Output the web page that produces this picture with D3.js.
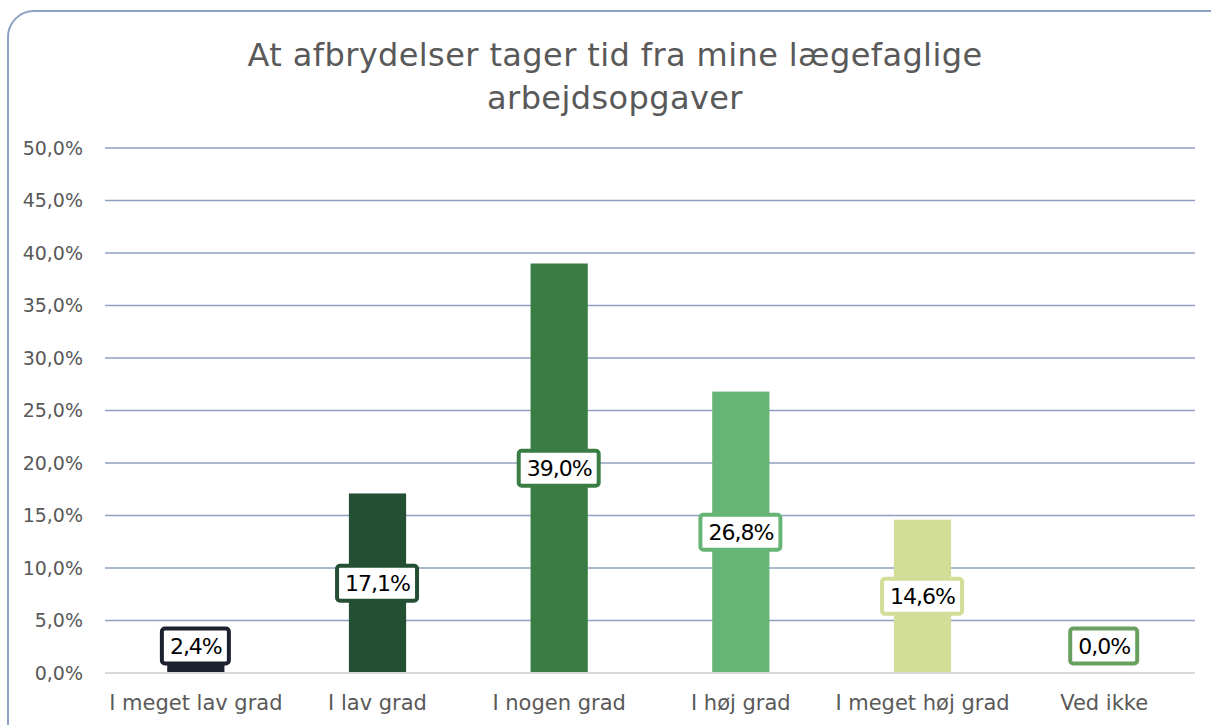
<!DOCTYPE html>
<html>
<head>
<meta charset="utf-8">
<script src="https://cdn.jsdelivr.net/npm/d3@7"></script>
<style>
  body { margin: 0; background: #fff; }
  svg text { font-family: "DejaVu Sans", sans-serif; }
</style>
</head>
<body>
<div id="chart"></div>
<script>
const titleLines = ['At afbrydelser tager tid fra mine lægefaglige', 'arbejdsopgaver'];
const categories = ['I meget lav grad', 'I lav grad', 'I nogen grad', 'I høj grad', 'I meget høj grad', 'Ved ikke'];
const values = [2.4, 17.1, 39.0, 26.8, 14.6, 0.0];
const colors = ['#1c2130', '#254f33', '#3a7d44', '#66b476', '#d2dd97', '#6aa05f'];
const yTicks = [0, 5, 10, 15, 20, 25, 30, 35, 40, 45, 50];

const width = 1211, height = 725;
const plot = { left: 105, right: 1195, top: 148, bottom: 673 };

const svg = d3.select('#chart')
    .append('svg')
    .attr('width', width)
    .attr('height', height);

// chart frame (runs off the right/bottom edge like the screenshot)
svg.append('rect')
    .attr('x', 8).attr('y', 11)
    .attr('width', 1240).attr('height', 760)
    .attr('rx', 26)
    .attr('fill', 'none')
    .attr('stroke', '#8ea0c4')
    .attr('stroke-width', 2);

// Title
svg.append('g')
    .selectAll('text')
    .data(titleLines)
    .enter()
    .append('text')
    .attr('x', 615)
    .attr('y', (d, i) => 66 + i * 43)
    .attr('text-anchor', 'middle')
    .attr('font-size', 32)
    .attr('letter-spacing', 0.4)
    .attr('fill', '#595959')
    .text(d => d);

const x = d3.scaleBand(categories, [plot.left, plot.right]).paddingInner(0.685).paddingOuter(0.3425);
const y = d3.scaleLinear([0, 50], [plot.bottom, plot.top]);

// gridlines
svg.append('g')
    .selectAll('line')
    .data(yTicks.filter(d => d > 0))
    .enter()
    .append('line')
    .attr('x1', plot.left).attr('x2', plot.right)
    .attr('y1', d => y(d)).attr('y2', d => y(d))
    .attr('stroke', '#8fa0c0')
    .attr('stroke-width', 1.5);

// y axis labels
const yAxis = svg.append('g')
    .attr('transform', `translate(${plot.left},0)`)
    .call(d3.axisLeft(y).tickValues(yTicks).tickSize(0).tickPadding(22)
        .tickFormat(d => d.toFixed(1).replace('.', ',') + '%'));
yAxis.select('.domain').remove();
yAxis.selectAll('text')
    .attr('font-size', 19)
    .attr('fill', '#595959')
    .attr('font-family', '"DejaVu Sans", sans-serif');

// bars
svg.append('g')
    .selectAll('rect')
    .data(values)
    .enter()
    .append('rect')
    .attr('x', (d, i) => x(categories[i]))
    .attr('width', x.bandwidth())
    .attr('y', d => y(d))
    .attr('height', d => y(0) - y(d))
    .attr('fill', (d, i) => colors[i]);

// baseline
svg.append('line')
    .attr('x1', plot.left).attr('x2', plot.right)
    .attr('y1', y(0)).attr('y2', y(0))
    .attr('stroke', '#d9d9d9')
    .attr('stroke-width', 2);

// x axis labels
svg.append('g')
    .selectAll('text')
    .data(categories)
    .enter()
    .append('text')
    .attr('x', d => x(d) + x.bandwidth() / 2)
    .attr('y', 710)
    .attr('text-anchor', 'middle')
    .attr('font-size', 21)
    .attr('fill', '#595959')
    .text(d => d);

// data labels, centred in bar (kept above baseline for tiny bars)
const labels = svg.append('g')
    .selectAll('g')
    .data(values)
    .enter()
    .append('g')
    .attr('transform', (d, i) => {
        const cx = x(categories[i]) + x.bandwidth() / 2;
        const cy = Math.min((y(d) + y(0)) / 2, y(0) - 27);
        return `translate(${cx},${cy})`;
    });

labels.append('text')
    .attr('text-anchor', 'middle')
    .attr('dy', '0.36em')
    .attr('font-size', 22)
    .attr('letter-spacing', -1)
    .attr('fill', '#000')
    .text(d => d.toFixed(1).replace('.', ',') + '%');

labels.each(function(d, i) {
    const g = d3.select(this);
    const bb = g.select('text').node().getBBox();
    g.insert('rect', 'text')
        .attr('x', bb.x - 8)
        .attr('y', -17.5)
        .attr('width', bb.width + 15)
        .attr('height', 35)
        .attr('rx', 3)
        .attr('fill', '#fff')
        .attr('stroke', colors[i])
        .attr('stroke-width', 4);
});
</script>
</body>
</html>
